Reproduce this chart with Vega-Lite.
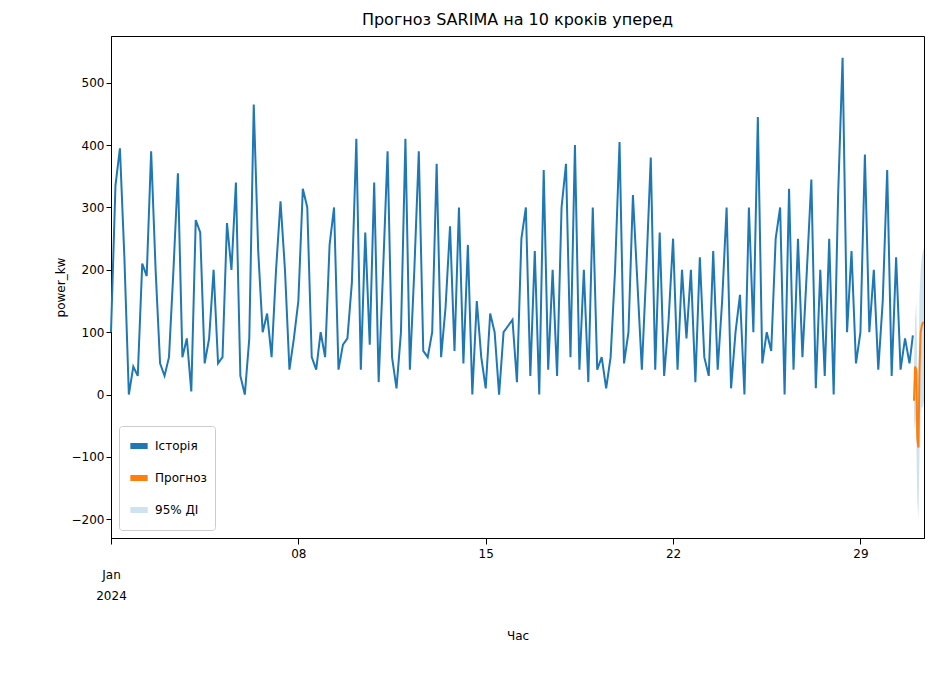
{"$schema":"https://vega.github.io/schema/vega-lite/v6.json","width":813,"height":502,"background":"white","padding":{"left":54,"top":12,"right":10,"bottom":5},
"title":{"text":"Прогноз SARIMA на 10 кроків уперед","fontSize":16,"fontWeight":"normal","font":"DejaVu Sans","offset":8},
"config":{"font":"DejaVu Sans","axis":{"grid":false,"labelFontSize":12,"titleFontSize":12,"titleFontWeight":"normal","domainColor":"black","tickColor":"black","labelColor":"black"},"view":{"stroke":"black"}},
"datasets":{
"hist":[
{"t":"2024-01-01T00:00","v":100},{"t":"2024-01-01T04:00","v":335},{"t":"2024-01-01T08:00","v":395},{"t":"2024-01-01T12:00","v":220},{"t":"2024-01-01T16:00","v":0},{"t":"2024-01-01T20:00","v":45},
{"t":"2024-01-02T00:00","v":30},{"t":"2024-01-02T04:00","v":210},{"t":"2024-01-02T08:00","v":190},{"t":"2024-01-02T12:00","v":390},{"t":"2024-01-02T16:00","v":200},{"t":"2024-01-02T20:00","v":50},
{"t":"2024-01-03T00:00","v":30},{"t":"2024-01-03T04:00","v":60},{"t":"2024-01-03T08:00","v":200},{"t":"2024-01-03T12:00","v":355},{"t":"2024-01-03T16:00","v":60},{"t":"2024-01-03T20:00","v":90},
{"t":"2024-01-04T00:00","v":5},{"t":"2024-01-04T04:00","v":280},{"t":"2024-01-04T08:00","v":260},{"t":"2024-01-04T12:00","v":50},{"t":"2024-01-04T16:00","v":90},{"t":"2024-01-04T20:00","v":200},
{"t":"2024-01-05T00:00","v":50},{"t":"2024-01-05T04:00","v":60},{"t":"2024-01-05T08:00","v":275},{"t":"2024-01-05T12:00","v":200},{"t":"2024-01-05T16:00","v":340},{"t":"2024-01-05T20:00","v":30},
{"t":"2024-01-06T00:00","v":0},{"t":"2024-01-06T04:00","v":90},{"t":"2024-01-06T08:00","v":465},{"t":"2024-01-06T12:00","v":230},{"t":"2024-01-06T16:00","v":100},{"t":"2024-01-06T20:00","v":130},
{"t":"2024-01-07T00:00","v":60},{"t":"2024-01-07T04:00","v":200},{"t":"2024-01-07T08:00","v":310},{"t":"2024-01-07T12:00","v":200},{"t":"2024-01-07T16:00","v":40},{"t":"2024-01-07T20:00","v":90},
{"t":"2024-01-08T00:00","v":150},{"t":"2024-01-08T04:00","v":330},{"t":"2024-01-08T08:00","v":300},{"t":"2024-01-08T12:00","v":60},{"t":"2024-01-08T16:00","v":40},{"t":"2024-01-08T20:00","v":100},
{"t":"2024-01-09T00:00","v":60},{"t":"2024-01-09T04:00","v":240},{"t":"2024-01-09T08:00","v":300},{"t":"2024-01-09T12:00","v":40},{"t":"2024-01-09T16:00","v":80},{"t":"2024-01-09T20:00","v":90},
{"t":"2024-01-10T00:00","v":180},{"t":"2024-01-10T04:00","v":410},{"t":"2024-01-10T08:00","v":40},{"t":"2024-01-10T12:00","v":260},{"t":"2024-01-10T16:00","v":80},{"t":"2024-01-10T20:00","v":340},
{"t":"2024-01-11T00:00","v":20},{"t":"2024-01-11T04:00","v":200},{"t":"2024-01-11T08:00","v":390},{"t":"2024-01-11T12:00","v":60},{"t":"2024-01-11T16:00","v":10},{"t":"2024-01-11T20:00","v":100},
{"t":"2024-01-12T00:00","v":410},{"t":"2024-01-12T04:00","v":40},{"t":"2024-01-12T08:00","v":200},{"t":"2024-01-12T12:00","v":390},{"t":"2024-01-12T16:00","v":70},{"t":"2024-01-12T20:00","v":60},
{"t":"2024-01-13T00:00","v":100},{"t":"2024-01-13T04:00","v":370},{"t":"2024-01-13T08:00","v":60},{"t":"2024-01-13T12:00","v":140},{"t":"2024-01-13T16:00","v":270},{"t":"2024-01-13T20:00","v":70},
{"t":"2024-01-14T00:00","v":300},{"t":"2024-01-14T04:00","v":50},{"t":"2024-01-14T08:00","v":240},{"t":"2024-01-14T12:00","v":0},{"t":"2024-01-14T16:00","v":150},{"t":"2024-01-14T20:00","v":60},
{"t":"2024-01-15T00:00","v":10},{"t":"2024-01-15T04:00","v":130},{"t":"2024-01-15T08:00","v":100},{"t":"2024-01-15T12:00","v":0},{"t":"2024-01-15T16:00","v":100},{"t":"2024-01-15T20:00","v":110},
{"t":"2024-01-16T00:00","v":120},{"t":"2024-01-16T04:00","v":20},{"t":"2024-01-16T08:00","v":250},{"t":"2024-01-16T12:00","v":300},{"t":"2024-01-16T16:00","v":30},{"t":"2024-01-16T20:00","v":230},
{"t":"2024-01-17T00:00","v":0},{"t":"2024-01-17T04:00","v":360},{"t":"2024-01-17T08:00","v":40},{"t":"2024-01-17T12:00","v":200},{"t":"2024-01-17T16:00","v":30},{"t":"2024-01-17T20:00","v":300},
{"t":"2024-01-18T00:00","v":370},{"t":"2024-01-18T04:00","v":60},{"t":"2024-01-18T08:00","v":400},{"t":"2024-01-18T12:00","v":40},{"t":"2024-01-18T16:00","v":200},{"t":"2024-01-18T20:00","v":20},
{"t":"2024-01-19T00:00","v":300},{"t":"2024-01-19T04:00","v":40},{"t":"2024-01-19T08:00","v":60},{"t":"2024-01-19T12:00","v":10},{"t":"2024-01-19T16:00","v":60},{"t":"2024-01-19T20:00","v":200},
{"t":"2024-01-20T00:00","v":405},{"t":"2024-01-20T04:00","v":50},{"t":"2024-01-20T08:00","v":100},{"t":"2024-01-20T12:00","v":320},{"t":"2024-01-20T16:00","v":180},{"t":"2024-01-20T20:00","v":40},
{"t":"2024-01-21T00:00","v":200},{"t":"2024-01-21T04:00","v":380},{"t":"2024-01-21T08:00","v":40},{"t":"2024-01-21T12:00","v":260},{"t":"2024-01-21T16:00","v":30},{"t":"2024-01-21T20:00","v":120},
{"t":"2024-01-22T00:00","v":250},{"t":"2024-01-22T04:00","v":40},{"t":"2024-01-22T08:00","v":200},{"t":"2024-01-22T12:00","v":90},{"t":"2024-01-22T16:00","v":200},{"t":"2024-01-22T20:00","v":20},
{"t":"2024-01-23T00:00","v":220},{"t":"2024-01-23T04:00","v":60},{"t":"2024-01-23T08:00","v":30},{"t":"2024-01-23T12:00","v":230},{"t":"2024-01-23T16:00","v":40},{"t":"2024-01-23T20:00","v":150},
{"t":"2024-01-24T00:00","v":300},{"t":"2024-01-24T04:00","v":10},{"t":"2024-01-24T08:00","v":100},{"t":"2024-01-24T12:00","v":160},{"t":"2024-01-24T16:00","v":0},{"t":"2024-01-24T20:00","v":300},
{"t":"2024-01-25T00:00","v":100},{"t":"2024-01-25T04:00","v":445},{"t":"2024-01-25T08:00","v":50},{"t":"2024-01-25T12:00","v":100},{"t":"2024-01-25T16:00","v":70},{"t":"2024-01-25T20:00","v":250},
{"t":"2024-01-26T00:00","v":300},{"t":"2024-01-26T04:00","v":0},{"t":"2024-01-26T08:00","v":330},{"t":"2024-01-26T12:00","v":40},{"t":"2024-01-26T16:00","v":250},{"t":"2024-01-26T20:00","v":60},
{"t":"2024-01-27T00:00","v":200},{"t":"2024-01-27T04:00","v":345},{"t":"2024-01-27T08:00","v":10},{"t":"2024-01-27T12:00","v":200},{"t":"2024-01-27T16:00","v":30},{"t":"2024-01-27T20:00","v":250},
{"t":"2024-01-28T00:00","v":0},{"t":"2024-01-28T04:00","v":320},{"t":"2024-01-28T08:00","v":540},{"t":"2024-01-28T12:00","v":100},{"t":"2024-01-28T16:00","v":230},{"t":"2024-01-28T20:00","v":50},
{"t":"2024-01-29T00:00","v":100},{"t":"2024-01-29T04:00","v":385},{"t":"2024-01-29T08:00","v":100},{"t":"2024-01-29T12:00","v":200},{"t":"2024-01-29T16:00","v":40},{"t":"2024-01-29T20:00","v":150},
{"t":"2024-01-30T00:00","v":360},{"t":"2024-01-30T04:00","v":30},{"t":"2024-01-30T08:00","v":220},{"t":"2024-01-30T12:00","v":40},{"t":"2024-01-30T16:00","v":90},{"t":"2024-01-30T20:00","v":50},{"t":"2024-01-30T23:00","v":95}],
"fc":[
{"t":"2024-01-31T00:00","v":-10,"lo":-60,"hi":50},{"t":"2024-01-31T01:00","v":45,"lo":-40,"hi":120},{"t":"2024-01-31T02:00","v":40,"lo":-60,"hi":150},{"t":"2024-01-31T03:00","v":-70,"lo":-170,"hi":40},{"t":"2024-01-31T04:00","v":-85,"lo":-200,"hi":30},{"t":"2024-01-31T05:00","v":40,"lo":-90,"hi":160},{"t":"2024-01-31T06:00","v":100,"lo":-30,"hi":200},{"t":"2024-01-31T07:00","v":110,"lo":-20,"hi":220},{"t":"2024-01-31T08:00","v":115,"lo":-20,"hi":230},{"t":"2024-01-31T09:00","v":115,"lo":-10,"hi":235}]},
"encoding":{"x":{"field":"t","type":"temporal","title":"Час","scale":{"domain":["2024-01-01T00:00","2024-01-31T09:00"]},
"axis":{"values":["2024-01-01T00:00","2024-01-08T00:00","2024-01-15T00:00","2024-01-22T00:00","2024-01-29T00:00"],"labelExpr":"date(datum.value)==1 ? [' ',' ','Jan','2024'] : timeFormat(datum.value,'%d')","labelAlign":"center","labelPadding":4,"tickSize":6,"titlePadding":8,"labelLineHeight":21}}},
"layer":[
{"data":{"name":"fc"},"mark":{"type":"area","opacity":1},"encoding":{"y":{"field":"lo","type":"quantitative"},"y2":{"field":"hi"},"color":{"datum":"95% ДІ","type":"nominal"}}},
{"data":{"name":"hist"},"mark":{"type":"line","strokeWidth":2},"encoding":{"y":{"field":"v","type":"quantitative","title":"power_kw","scale":{"domain":[-230,575],"nice":false},"axis":{"values":[-200,-100,0,100,200,300,400,500]}},
"color":{"datum":"Історія","type":"nominal","scale":{"domain":["Історія","Прогноз","95% ДІ"],"range":["#1f77b4","#ff7f0e","#cfe2f0"]},"legend":{"title":null,"orient":"bottom-left","labelFontSize":12,"symbolType":"stroke","symbolStrokeWidth":6,"symbolSize":300,"strokeColor":"#ccc","fillColor":"white","padding":8,"cornerRadius":3,"offset":8,"rowPadding":8}}}},
{"data":{"name":"fc"},"mark":{"type":"line","strokeWidth":2},"encoding":{"y":{"field":"v","type":"quantitative"},"color":{"datum":"Прогноз","type":"nominal"}}}
]}
